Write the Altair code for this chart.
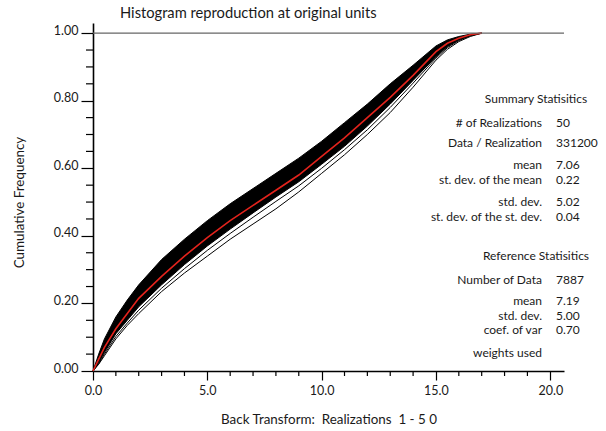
import altair as alt
import pandas as pd

# Cumulative frequency curves (x in original units)
x_vals = [0, 0.25, 0.5, 1, 1.5, 2, 3, 4, 5, 6, 7, 8, 9, 10, 11, 12, 13, 14, 15, 15.5, 16, 16.5, 17]
reference_cdf = [0, 0.035, 0.07, 0.125, 0.17, 0.215, 0.28, 0.34, 0.395, 0.445, 0.49, 0.535, 0.58,
                 0.635, 0.69, 0.75, 0.81, 0.875, 0.945, 0.97, 0.985, 0.995, 1.0]
band_upper = [0, 0.05, 0.095, 0.16, 0.21, 0.255, 0.33, 0.39, 0.445, 0.495, 0.54, 0.585, 0.63,
              0.68, 0.735, 0.79, 0.85, 0.905, 0.962, 0.98, 0.99, 0.997, 1.0]
band_lower = [0, 0.025, 0.055, 0.11, 0.15, 0.19, 0.255, 0.315, 0.37, 0.42, 0.468, 0.515, 0.56,
              0.612, 0.665, 0.725, 0.79, 0.86, 0.93, 0.96, 0.98, 0.993, 1.0]
realization_low_1 = [0, 0.02, 0.045, 0.095, 0.135, 0.17, 0.235, 0.29, 0.34, 0.39, 0.435, 0.48, 0.53,
                     0.585, 0.64, 0.7, 0.765, 0.84, 0.92, 0.952, 0.975, 0.99, 1.0]
realization_low_2 = [0, 0.022, 0.05, 0.102, 0.142, 0.18, 0.245, 0.303, 0.357, 0.407, 0.455, 0.502, 0.548,
                     0.6, 0.655, 0.714, 0.78, 0.852, 0.926, 0.957, 0.978, 0.992, 1.0]

# Axis ticks
x_major = [0, 5, 10, 15, 20]
x_minor = [1, 2, 3, 4, 6, 7, 8, 9, 11, 12, 13, 14, 16, 17, 18, 19]
y_major = [0.0, 0.2, 0.4, 0.6, 0.8, 1.0]
y_minor = [0.05, 0.1, 0.15, 0.25, 0.3, 0.35, 0.45, 0.5, 0.55, 0.65, 0.7, 0.75, 0.85, 0.9, 0.95]

# Statistics panel text
summary_header = "Summary Statisitics"
summary_labels = ["# of Realizations", "Data / Realization", "mean", "st. dev. of the mean",
                  "std. dev.", "st. dev. of the st. dev."]
summary_values = ["50", "331200", "7.06", "0.22", "5.02", "0.04"]
reference_header = "Reference Statisitics"
reference_labels = ["Number of Data", "mean", "std. dev.", "coef. of var", "weights used"]
reference_values = ["7887", "7.19", "5.00", "0.70", ""]

title_text = "Histogram reproduction at original units"
# non-breaking spaces keep the doubled gaps from collapsing in SVG text
x_title = "Back Transform:\u00a0 Realizations\u00a0 1 - 5 0"
y_title = "Cumulative Frequency"

# Layout (pixels)
W, H = 471, 348
FONT = "Lato"
INK = "#1a1a1a"
X_MAX = 20.6
Y_MAX = 1.03
summary_rows_px = [100, 120, 142, 157, 179, 194]
reference_rows_px = [257, 278, 293, 307, 330]
header_rows_px = [76, 233]


def px_to_y(p):
    """Convert a pixel offset from the top of the plot into y-scale units."""
    return Y_MAX * (1 - p / H)


xs = alt.Scale(domain=[0, X_MAX], nice=False, zero=False)
ys = alt.Scale(domain=[0, Y_MAX], nice=False, zero=False)

AX_X = alt.Axis(values=x_major, format=".1f", title=x_title, tickSize=9, labelFlush=False,
                labelPadding=4, titleX=W / 2, titleY=48)
AX_Y = alt.Axis(values=y_major, format=".2f", title=y_title, tickSize=12, labelFlush=False,
                labelPadding=3, labelBaseline="middle", labelOffset=-3,
                titleX=-74, titleY=179, titleAngle=270)


def X(field):
    return alt.X(field, scale=xs, axis=AX_X)


def Y(field):
    return alt.Y(field, scale=ys, axis=AX_Y)


band_df = pd.DataFrame({"x": x_vals, "lo": band_lower, "hi": band_upper})
lines_df = pd.concat([
    pd.DataFrame({"x": x_vals, "y": realization_low_1, "s": "r1"}),
    pd.DataFrame({"x": x_vals, "y": realization_low_2, "s": "r2"}),
    pd.DataFrame({"x": x_vals, "y": band_upper, "s": "up"}),
    pd.DataFrame({"x": x_vals, "y": band_lower, "s": "lo"}),
])
ref_df = pd.DataFrame({"x": x_vals, "y": reference_cdf})

band = alt.Chart(band_df).mark_area(color="black", opacity=1).encode(
    x=X("x:Q"), y=Y("hi:Q"), y2="lo:Q",
)

reals = alt.Chart(lines_df).mark_line(color="black", strokeWidth=1).encode(
    x=X("x:Q"), y=Y("y:Q"), detail="s:N",
)

ref_line = alt.Chart(ref_df).mark_line(color="#e3231c", strokeWidth=1.6).encode(
    x=X("x:Q"), y=Y("y:Q"),
)

top_line = alt.Chart(pd.DataFrame({"y": [1.0]})).mark_rule(color="#666666", strokeWidth=1.3).encode(
    y=Y("y:Q"), x=alt.value(0), x2=alt.value(W),
)

x_minor_ticks = alt.Chart(pd.DataFrame({"t": x_minor})).mark_rule(color="black", strokeWidth=1.2).encode(
    x=X("t:Q"), y=alt.value(H), y2=alt.value(H + 5),
)
y_minor_ticks = alt.Chart(pd.DataFrame({"t": y_minor})).mark_rule(color="black", strokeWidth=1.2).encode(
    y=Y("t:Q"), x=alt.value(-7), x2=alt.value(0),
)

title_mark = alt.Chart(pd.DataFrame({"t": [title_text]})).mark_text(
    font=FONT, fontSize=14.7, color=INK, align="left", baseline="middle"
).encode(x=alt.value(27), y=alt.value(-9), text="t:N")

label_rows = pd.DataFrame({
    "label": summary_labels + reference_labels,
    "value": summary_values + reference_values,
    "yy": [px_to_y(p) for p in summary_rows_px + reference_rows_px],
})
header_rows = pd.DataFrame({
    "label": [summary_header, reference_header],
    "yy": [px_to_y(p) for p in header_rows_px],
})

stat_labels = alt.Chart(label_rows).mark_text(
    font=FONT, fontSize=12, color=INK, align="right", baseline="middle"
).encode(x=alt.value(449), y=Y("yy:Q"), text="label:N")
stat_values = alt.Chart(label_rows).mark_text(
    font=FONT, fontSize=12, color=INK, align="left", baseline="middle"
).encode(x=alt.value(463), y=Y("yy:Q"), text="value:N")
stat_headers = alt.Chart(header_rows).mark_text(
    font=FONT, fontSize=12, color=INK, align="center", baseline="middle"
).encode(x=alt.value(443), y=Y("yy:Q"), text="label:N")

chart = alt.layer(
    band, reals, ref_line, top_line, x_minor_ticks, y_minor_ticks,
    title_mark, stat_headers, stat_labels, stat_values,
).properties(
    width=W, height=H,
    autosize=alt.AutoSizeParams(type="none"),
    padding={"left": 93, "top": 23, "right": 42, "bottom": 60},
    background="white",
).configure_view(
    stroke=None
).configure_axis(
    grid=False, domainColor="black", domainWidth=1.6, tickColor="black", tickWidth=1.2,
    labelFont=FONT, labelFontSize=12.5, labelColor=INK,
    titleFont=FONT, titleFontSize=13.4, titleFontWeight="normal", titleColor=INK,
    titleBaseline="middle", titleAlign="center",
)

chart.save("out.html", embed_options={"renderer": "svg", "actions": False})
